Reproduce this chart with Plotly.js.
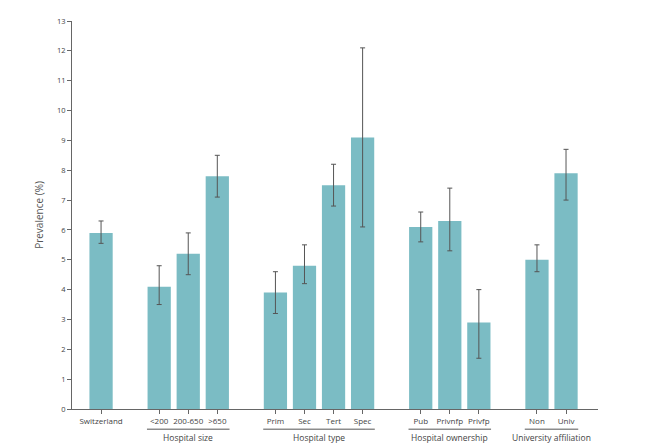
<!DOCTYPE html>
<html><head><meta charset="utf-8">
<script src="https://cdn.plot.ly/plotly-3.0.1.min.js"></script>
<style>html,body{margin:0;padding:0;background:#fff}#chart{width:653px;height:444px}</style>
</head><body><div id="chart"></div>
<script>
const categories = ['Switzerland','<200','200-650','>650','Prim','Sec','Tert','Spec','Pub','Privnfp','Privfp','Non','Univ'];
const values = [5.9, 4.1, 5.2, 7.8, 3.9, 4.8, 7.5, 9.1, 6.1, 6.3, 2.9, 5.0, 7.9];
const lower  = [5.55, 3.5, 4.5, 7.1, 3.2, 4.2, 6.8, 6.1, 5.6, 5.3, 1.7, 4.6, 7.0];
const upper  = [6.3, 4.8, 5.9, 8.5, 4.6, 5.5, 8.2, 12.1, 6.6, 7.4, 4.0, 5.5, 8.7];
const groupNames = ['', 'Hospital size', 'Hospital type', 'Hospital ownership', 'University affiliation'];
const groupSizes = [1, 3, 4, 3, 2];
const yTicks = [0,1,2,3,4,5,6,7,8,9,10,11,12,13];

// compute positions: one empty slot between groups
const xs = [];
const shapes = [];
const annotations = [];
let pos = 0;
groupSizes.forEach((n, g) => {
  const start = pos;
  for (let i = 0; i < n; i++) { xs.push(pos); pos++; }
  const end = pos - 1;
  if (groupNames[g]) {
    shapes.push({type:'line', xref:'x', yref:'paper', x0:start-0.42, x1:end+0.42, y0:-0.052, y1:-0.052,
      line:{color:'#555', width:1}});
    annotations.push({xref:'x', yref:'paper', x:(start+end)/2, y:-0.074, text:groupNames[g], showarrow:false,
      yanchor:'middle', font:{family:'Open Sans, sans-serif', size:8.5, color:'#444'}});
  }
  pos++;
});

const trace = {
  type:'bar', x: xs, y: values, width: 0.8,
  marker:{color:'#7bbcc4', line:{width:0}},
  error_y:{type:'data', symmetric:false,
    array: upper.map((u,i)=>u-values[i]),
    arrayminus: lower.map((l,i)=>values[i]-l),
    color:'#555', thickness:1, width:2.5},
  hoverinfo:'skip'
};

const layout = {
  width:653, height:444,
  margin:{l:72, r:55, t:21, b:35},
  paper_bgcolor:'#fff', plot_bgcolor:'#fff',
  showlegend:false,
  xaxis:{range:[-1, 17.1], tickvals: xs, ticktext: categories, showgrid:false, zeroline:false,
    showline:true, linecolor:'#666', linewidth:1, ticks:'outside', ticklen:4, tickcolor:'#666',
    tickfont:{family:'Open Sans, sans-serif', size:8, color:'#444'}, fixedrange:true},
  yaxis:{range:[0,13], tickvals:yTicks, showgrid:false, zeroline:false,
    showline:true, linecolor:'#666', linewidth:1, ticks:'outside', ticklen:4, tickcolor:'#666',
    tickfont:{family:'Open Sans, sans-serif', size:7.5, color:'#444'},
    title:{text:'Prevalence (%)', font:{family:'Open Sans, sans-serif', size:10, color:'#555'}, standoff:11}},
  shapes: shapes,
  annotations: annotations
};
Plotly.newPlot('chart', [trace], layout, {staticPlot:true, displayModeBar:false});
</script></body></html>
